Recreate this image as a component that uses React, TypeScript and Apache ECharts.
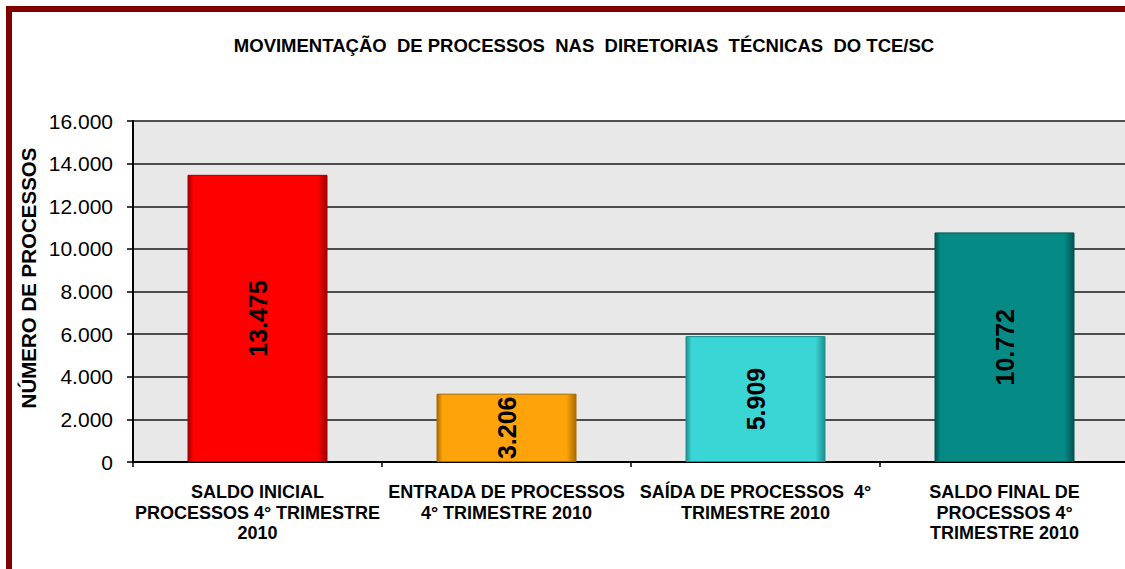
import React, { useEffect, useRef } from "react";
import * as echarts from "echarts";

const categories = [
  "SALDO INICIAL\nPROCESSOS 4° TRIMESTRE\n2010",
  "ENTRADA DE PROCESSOS\n4° TRIMESTRE 2010",
  "SAÍDA DE PROCESSOS  4°\nTRIMESTRE 2010",
  "SALDO FINAL DE\nPROCESSOS 4°\nTRIMESTRE 2010",
];
const values = [13475, 3206, 5909, 10772];
const barColors = ["#ff0000", "#ffa30a", "#3ad6d6", "#068a86"];
const edgeColors = ["#a00000", "#a86a00", "#1f8f8f", "#03534f"];
const yTicks = { min: 0, max: 16000, interval: 2000 };
const title = "MOVIMENTAÇÃO  DE PROCESSOS  NAS  DIRETORIAS  TÉCNICAS  DO TCE/SC";
const yName = "NÚMERO DE PROCESSOS";

const FONT = "'Liberation Sans', Arial, sans-serif";
const fmt = (v: number) => String(Math.round(v)).replace(/\B(?=(\d{3})+(?!\d))/g, ".");

export default function App() {
  const ref = useRef<HTMLDivElement>(null);
  useEffect(() => {
    if (!ref.current) return;
    const chart = echarts.init(ref.current, undefined, { renderer: "svg" });
    chart.setOption({
      animation: false,
      backgroundColor: "#ffffff",
      textStyle: { fontFamily: FONT },
      grid: {
        left: 133,
        top: 121,
        bottom: 107,
        right: 0,
        show: true,
        backgroundColor: "#e8e8e8",
        borderWidth: 0,
      },
      graphic: [
        {
          type: "rect",
          shape: { x: 9, y: 9, width: 1300, height: 700 },
          style: { fill: "none", stroke: "#800000", lineWidth: 6 },
          z: 100,
        },
        {
          type: "text",
          x: 584,
          y: 45,
          style: {
            text: title,
            font: `bold 18.5px ${FONT}`,
            fill: "#000",
            textAlign: "center",
            textVerticalAlign: "middle",
          },
        },
        {
          type: "text",
          x: 28,
          y: 278,
          rotation: Math.PI / 2,
          style: {
            text: yName,
            font: `bold 20.5px ${FONT}`,
            fill: "#000",
            textAlign: "center",
            textVerticalAlign: "middle",
          },
        },
      ],
      xAxis: {
        type: "category",
        data: categories,
        axisLine: { show: true, lineStyle: { color: "#000", width: 2 } },
        axisTick: { show: true, length: 5, lineStyle: { color: "#000", width: 1.5 } },
        axisLabel: {
          interval: 0,
          margin: 20,
          color: "#000",
          fontWeight: "bold",
          fontSize: 18,
          lineHeight: 20.5,
          fontFamily: FONT,
          align: "center",
        },
        splitLine: { show: false },
      },
      yAxis: {
        type: "value",
        min: yTicks.min,
        max: yTicks.max,
        interval: yTicks.interval,
        axisLine: { show: true, lineStyle: { color: "#000", width: 2 } },
        axisTick: { show: true, length: 6, lineStyle: { color: "#000", width: 1.5 } },
        axisLabel: {
          color: "#000",
          fontSize: 21,
          fontFamily: FONT,
          margin: 20,
          formatter: (v: number) => fmt(v),
        },
        splitLine: { show: true, lineStyle: { color: "#1a1a1a", width: 1.5 } },
      },
      series: [
        {
          type: "bar",
          barWidth: 140,
          data: values.map((v, i) => ({
            value: v,
            itemStyle: {
              color: new echarts.graphic.LinearGradient(0, 0, 1, 0, [
                { offset: 0, color: edgeColors[i] },
                { offset: 0.04, color: barColors[i] },
                { offset: 0.93, color: barColors[i] },
                { offset: 1, color: edgeColors[i] },
              ]),
              borderColor: edgeColors[i],
              borderWidth: 1,
            },
          })),
          label: {
            show: true,
            position: "inside",
            rotate: 90,
            color: "#000",
            fontWeight: "bold",
            fontSize: 25,
            fontFamily: FONT,
            formatter: (p: any) => fmt(p.value),
          },
        },
      ],
    });
    return () => chart.dispose();
  }, []);
  return (
    <div style={{ position: "fixed", left: 0, top: 0, width: 1125, height: 569, overflow: "hidden" }}>
      <div ref={ref} style={{ width: 1129, height: 569 }} />
    </div>
  );
}
